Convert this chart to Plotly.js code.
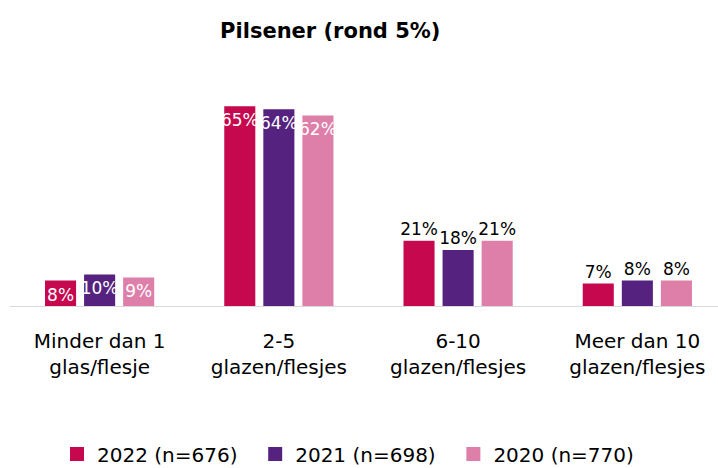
<!DOCTYPE html>
<html><head><meta charset="utf-8">
<script src="https://cdn.plot.ly/plotly-3.0.1.min.js"></script>
<style>html,body{margin:0;padding:0;background:#fff;}#chart{width:718px;height:468px;}</style>
</head><body><div id="chart"></div>
<script>
const categories = ["Minder dan 1<br>glas/flesje", "2-5<br>glazen/flesjes", "6-10<br>glazen/flesjes", "Meer dan 10<br>glazen/flesjes"];
const seriesNames = ["2022 (n=676)", "2021 (n=698)", "2020 (n=770)"];
const values2022 = [8, 65, 21, 7];
const values2021 = [10, 64, 18, 8];
const values2020 = [9, 62, 21, 8];
const colors = ["#C6084F", "#55237F", "#DE7FA9"];
const FONT = "DejaVu Sans, Verdana, sans-serif";

const allValues = [values2022, values2021, values2020];
const positions = ["inside", "inside", "outside", "outside"];
const traces = allValues.map((vals, i) => ({
  type: "bar",
  name: seriesNames[i] + "\u00a0\u00a0",
  x: categories,
  y: vals,
  text: vals.map(v => v + "%"),
  textposition: positions,
  textangle: 0,
  insidetextanchor: "end",
  constraintext: "none",
  cliponaxis: false,
  insidetextfont: {family: FONT, size: 17, color: "#ffffff"},
  outsidetextfont: {family: FONT, size: 17, color: "#000000"},
  textfont: {family: FONT, size: 17},
  marker: {color: colors[i], line: {color: colors[i], width: 2}},
  hoverinfo: "none"
}));

const layout = {
  width: 718, height: 468,
  margin: {l: 10, r: 0, t: 92, b: 162},
  paper_bgcolor: "#ffffff", plot_bgcolor: "#ffffff",
  font: {family: FONT, size: 20, color: "#000000"},
  title: {text: "<b>Pilsener (rond 5%)</b>", font: {family: FONT, size: 21, color: "#000"}, x: 0.46, xanchor: "center", xref: "container", y: 0.935, yref: "container", yanchor: "middle"},
  barmode: "group",
  bargap: 0.346,
  bargroupgap: 0.256,
  xaxis: {type: "category", range: [-0.5, 3.45], showline: true, linecolor: "#d9d9d9", linewidth: 1, ticks: "", showgrid: false, zeroline: false, tickfont: {family: FONT, size: 20, color: "#000"}, ticklabelstandoff: 17, automargin: false},
  yaxis: {range: [0, 70], visible: false, showgrid: false, zeroline: false},
  showlegend: true,
  legend: {orientation: "h", x: 57 / 718, xanchor: "left", xref: "container", y: 0.03, yref: "container", yanchor: "middle", font: {family: FONT, size: 20, color: "#000"}, itemclick: false, traceorder: "normal"}
};

Plotly.newPlot("chart", traces, layout, {staticPlot: true});
</script></body></html>
